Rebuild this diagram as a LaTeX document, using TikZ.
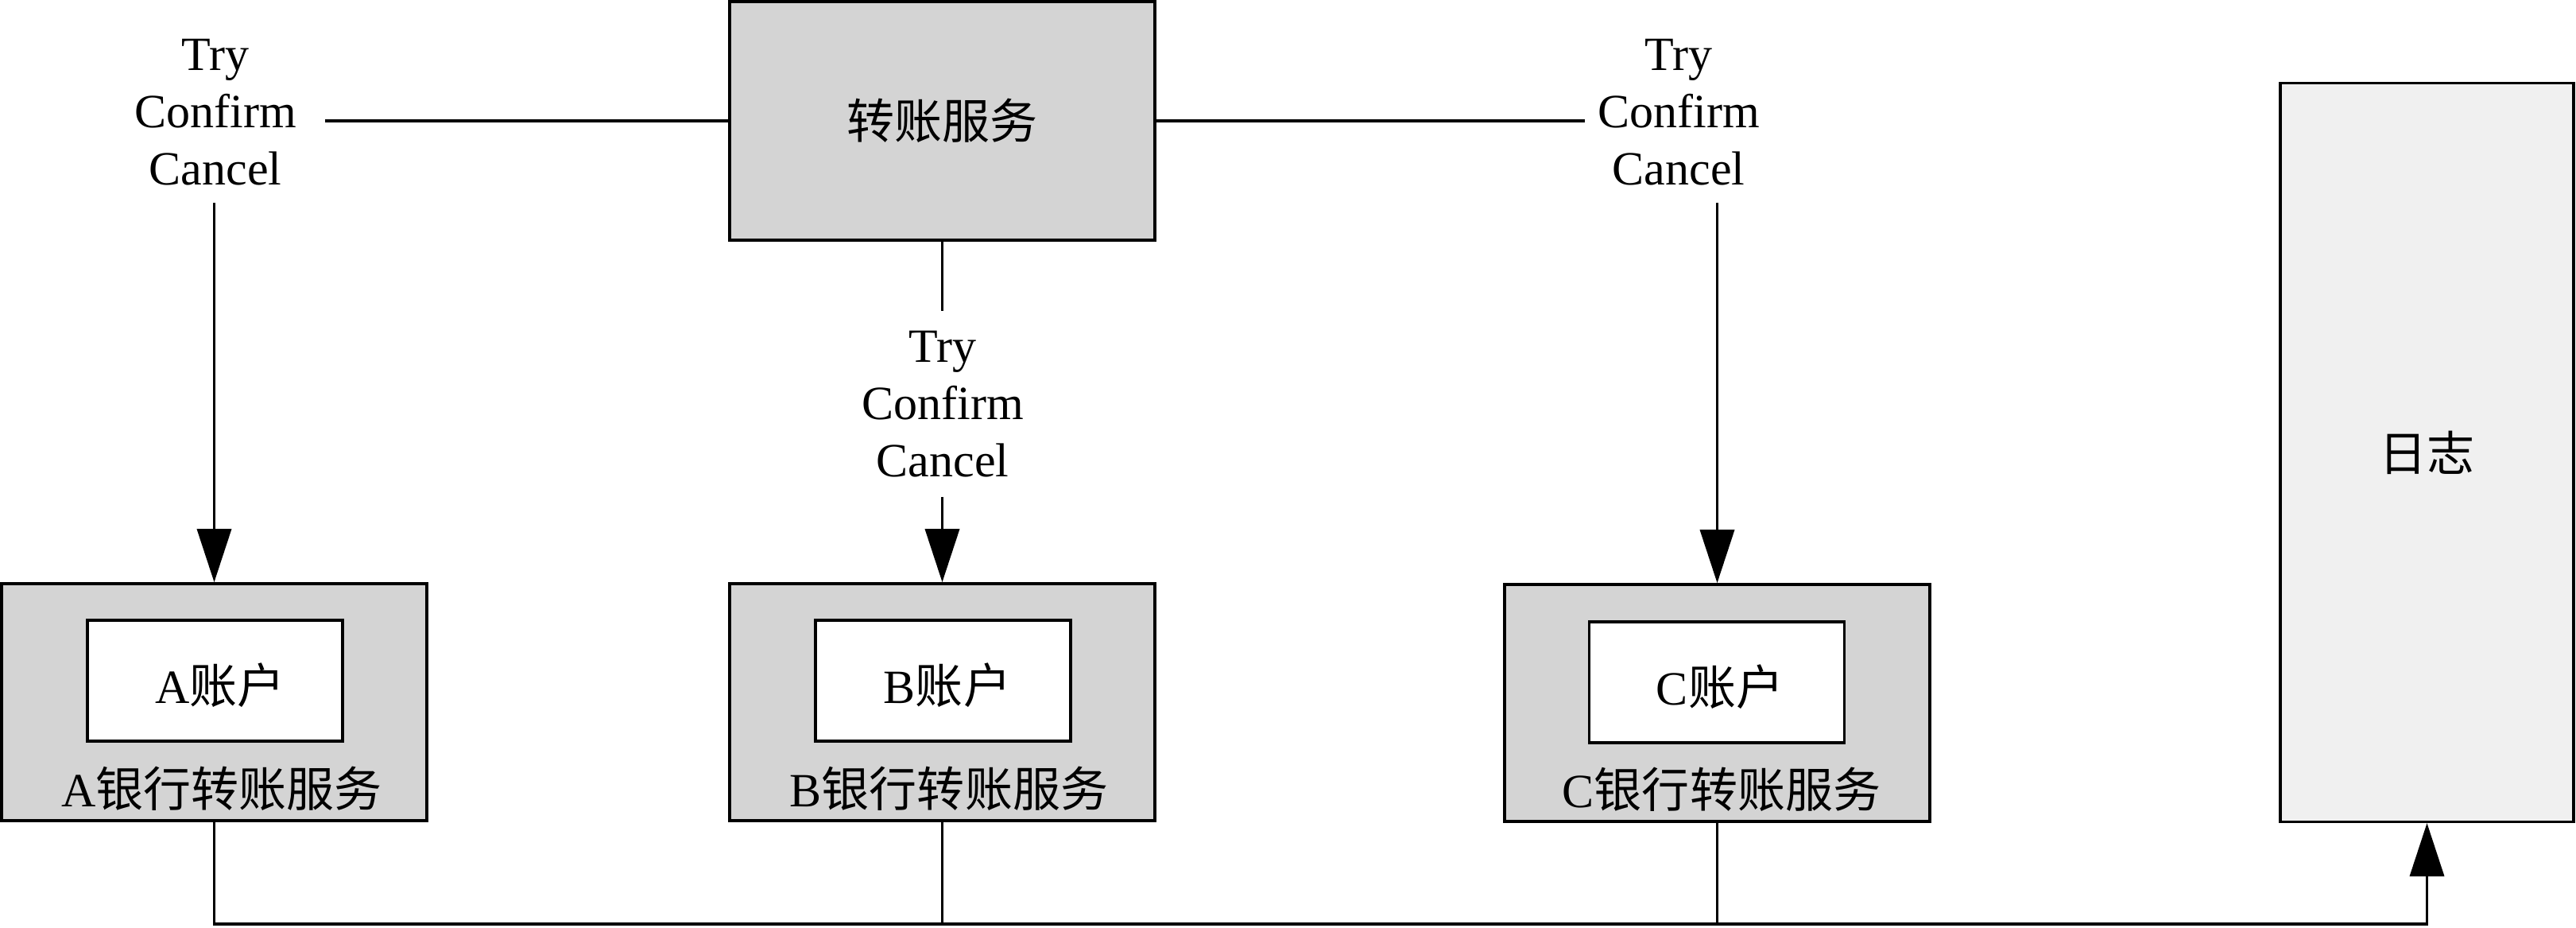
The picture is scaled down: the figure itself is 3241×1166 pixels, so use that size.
\documentclass[tikz,border=0pt]{standalone}
\usepackage{fontspec}
\setmainfont{Liberation Serif}
\newfontfamily\cjk{Noto Sans CJK SC}
\usetikzlibrary{arrows.meta}
\definecolor{boxgray}{RGB}{212,212,212}
\definecolor{loggray}{RGB}{240,240,240}
\begin{document}
\begin{tikzpicture}[x=0.01cm,y=-0.01cm,
  every node/.style={font=\fontsize{17.07pt}{20.5pt}\selectfont},
  outerbox/.style={draw,line width=1pt,fill=boxgray,minimum width=5.35cm,minimum height=2.98cm,inner sep=0pt},
  innerbox/.style={draw,line width=1pt,fill=white,minimum width=3.21cm,minimum height=1.52cm,inner sep=0pt},
  logbox/.style={draw,line width=1pt,fill=loggray,minimum width=3.69cm,minimum height=9.28cm,inner sep=0pt},
  tcc/.style={align=center,inner xsep=0.355cm,inner ysep=0.21cm},
  conn/.style={line width=1pt},
  arr/.style={conn,-{Triangle[length=0.67cm,width=0.43cm]}}]
\useasboundingbox (0,0) rectangle (3241,1166);

% main service
\node[outerbox,minimum height=3.0cm] (main) at (1185.5,152) {{\cjk 转账服务}};

% bank A
\node[outerbox] (Aout) at (269.5,883) {};
\node[innerbox] (Ain) at (270.5,856) {};
\node (Atxt) at (277,862) {A{\cjk 账户}};
\node (Albl) at (279,992) {A{\cjk 银行转账服务}};

% bank B
\node[outerbox] (Bout) at (1185.5,883) {};
\node[innerbox] (Bin) at (1186.5,856) {};
\node (Btxt) at (1192,862) {B{\cjk 账户}};
\node (Blbl) at (1194,992) {B{\cjk 银行转账服务}};

% bank C
\node[outerbox] (Cout) at (2160.5,884) {};
\node[innerbox] (Cin) at (2160,858) {};
\node (Ctxt) at (2164,864) {C{\cjk 账户}};
\node (Clbl) at (2166,993) {C{\cjk 银行转账服务}};

% log
\node[logbox] (log) at (3053.5,569) {{\cjk 日志}};

% labels
\node[tcc] (tccA) at (271,141) {Try\\Confirm\\Cancel};
\node[tcc,inner xsep=0.16cm] (tccC) at (2112,141) {Try\\Confirm\\Cancel};
\node[tcc,inner ysep=0.24cm] (tccB) at (1186,508) {Try\\Confirm\\Cancel};

% connectors
\draw[conn] (tccA.east |- main.west) -- (main.west);
\draw[conn] (main.east) -- (tccC.west |- main.east);
\draw[arr] (tccA.south -| Aout.north) -- (Aout.north);
\draw[arr] (tccC.south -| Cout.north) -- (Cout.north);
\draw[conn] (main.south) -- (tccB.north -| main.south);
\draw[arr] (tccB.south -| Bout.north) -- (Bout.north);

\coordinate (bus) at (0,1162);
\draw[arr] (Aout.south) |- (bus -| log.south) -- (log.south);
\draw[conn] (Bout.south) -- (Bout.south |- bus);
\draw[conn] (Cout.south) -- (Cout.south |- bus);
\end{tikzpicture}
\end{document}
